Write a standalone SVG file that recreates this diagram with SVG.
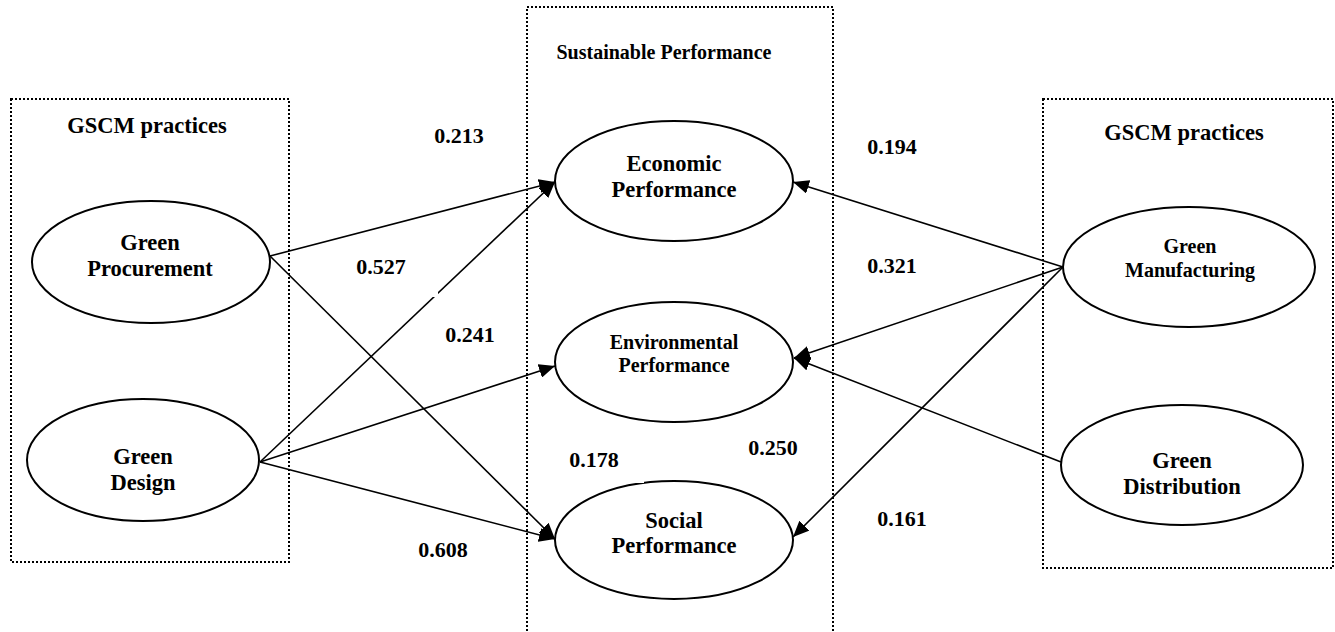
<svg xmlns="http://www.w3.org/2000/svg" width="1335" height="632" viewBox="0 0 1335 632">
  <defs>
    <marker id="arrow" markerUnits="userSpaceOnUse" markerWidth="18" markerHeight="14" refX="16" refY="7" orient="auto">
      <path d="M0,0 L16,7 L0,14 Z" fill="#000"/>
    </marker>
    <style>
      text { font-family: "Liberation Serif", "Times New Roman", serif; font-weight: bold; fill: #000; text-anchor: middle; }
      .frame { fill: none; stroke: #000; stroke-width: 2; stroke-dasharray: 2 2; }
      .node ellipse { fill: #fff; stroke: #000; stroke-width: 2; }
      .lbl { font-size: 22.5px; }
      .lbl-s { font-size: 20px; }
      .coef { font-size: 22px; }
      .edge { stroke: #000; stroke-width: 1.6; fill: none; marker-end: url(#arrow); }
    </style>
  </defs>
  <rect width="1335" height="632" fill="#fff"/>

  <!-- dotted group frames -->
  <g id="frames">
    <rect class="frame" x="11" y="99" width="278" height="463"/>
    <rect class="frame" x="527" y="7" width="306" height="640"/>
    <rect class="frame" x="1043" y="99" width="290" height="469"/>
    <text class="lbl" x="147" y="133">GSCM practices</text>
    <text class="lbl-s" x="664" y="59">Sustainable Performance</text>
    <text class="lbl" x="1184" y="140">GSCM practices</text>
  </g>

  <!-- path connectors -->
  <g id="connectors">
    <line class="edge" x1="270" y1="256" x2="555" y2="182"/>
    <line class="edge" x1="270" y1="256" x2="555" y2="539"/>
    <line class="edge" x1="260" y1="462" x2="555" y2="182"/>
    <line class="edge" x1="260" y1="462" x2="555" y2="366"/>
    <line class="edge" x1="260" y1="462" x2="555" y2="539"/>
    <line class="edge" x1="1063" y1="267" x2="793" y2="182"/>
    <line class="edge" x1="1063" y1="267" x2="794" y2="358"/>
    <line class="edge" x1="1063" y1="267" x2="793" y2="537"/>
    <line class="edge" x1="1061" y1="462" x2="794" y2="358"/>
    <rect x="430" y="289" width="8" height="8" fill="#fff"/>
  </g>

  <!-- nodes -->
  <g id="green-procurement" class="node">
    <ellipse cx="151" cy="262" rx="119" ry="61"/>
    <text class="lbl" x="150" y="250">Green</text>
    <text class="lbl" x="150" y="276">Procurement</text>
  </g>
  <g id="green-design" class="node">
    <ellipse cx="143" cy="460" rx="116" ry="61"/>
    <text class="lbl" x="143" y="464">Green</text>
    <text class="lbl" x="143" y="490">Design</text>
  </g>
  <g id="economic-performance" class="node">
    <ellipse cx="674" cy="181" rx="119" ry="60"/>
    <text class="lbl" x="674" y="171">Economic</text>
    <text class="lbl" x="674" y="197">Performance</text>
  </g>
  <g id="environmental-performance" class="node">
    <ellipse cx="674" cy="362" rx="119" ry="60"/>
    <text class="lbl-s" x="674" y="349">Environmental</text>
    <text class="lbl-s" x="674" y="372">Performance</text>
  </g>
  <g id="social-performance" class="node">
    <ellipse cx="674" cy="540" rx="119" ry="59"/>
    <rect x="630" y="478" width="14" height="5" fill="#fff"/>
    <text class="lbl" x="674" y="528">Social</text>
    <text class="lbl" x="674" y="553">Performance</text>
  </g>
  <g id="green-manufacturing" class="node">
    <ellipse cx="1189" cy="267" rx="126" ry="60"/>
    <text class="lbl-s" x="1190" y="253">Green</text>
    <text class="lbl-s" x="1190" y="277">Manufacturing</text>
  </g>
  <g id="green-distribution" class="node">
    <ellipse cx="1182" cy="465" rx="121" ry="60"/>
    <text class="lbl" x="1182" y="468">Green</text>
    <text class="lbl" x="1182" y="494">Distribution</text>
  </g>

  <!-- path coefficients -->
  <g id="coefficients">
    <text class="coef" x="459" y="143">0.213</text>
    <text class="coef" x="381" y="274">0.527</text>
    <text class="coef" x="470" y="342">0.241</text>
    <text class="coef" x="594" y="467">0.178</text>
    <text class="coef" x="443" y="557">0.608</text>
    <text class="coef" x="892" y="154">0.194</text>
    <text class="coef" x="892" y="273">0.321</text>
    <text class="coef" x="773" y="455">0.250</text>
    <text class="coef" x="902" y="526">0.161</text>
  </g>
</svg>
